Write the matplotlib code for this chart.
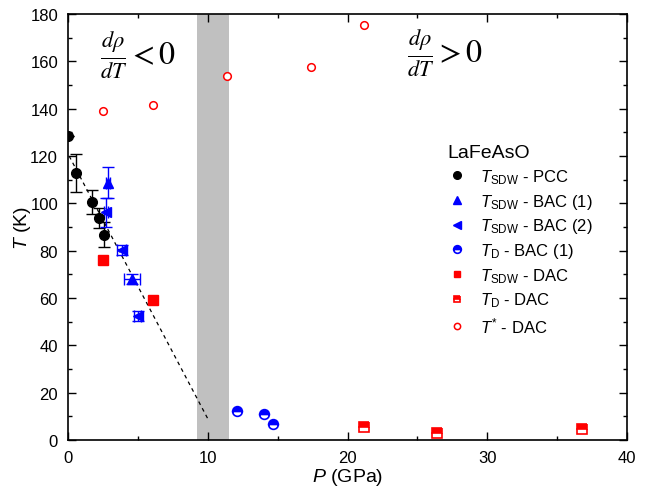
import matplotlib.pyplot as plt
from matplotlib.lines import Line2D
import numpy as np

plt.rcParams['font.family'] = ['Liberation Sans', 'DejaVu Sans']
plt.rcParams['mathtext.fontset'] = 'custom'
plt.rcParams['mathtext.rm'] = 'Liberation Sans'
plt.rcParams['mathtext.it'] = 'Liberation Sans:italic'
plt.rcParams['mathtext.bf'] = 'Liberation Sans:bold'

# T_SDW - PCC
pcc_p = [0.0, 0.6, 1.7, 2.2, 2.6]
pcc_t = [128.5, 113.0, 100.5, 94.0, 86.8]
pcc_err = [0, 8.0, 5.0, 4.2, 5.2]

# T_SDW - BAC (1)
bac1_p = [2.9, 4.6]
bac1_t = [108.8, 68.0]
bac1_yerr = [6.5, 2.0]
bac1_xerr = [0.15, 0.55]

# T_SDW - BAC (2)
bac2_p = [2.75, 3.85, 5.0]
bac2_t = [96.2, 80.3, 52.5]
bac2_yerr = [6.2, 2.2, 2.0]
bac2_xerr = [0.15, 0.3, 0.25]

# T_D - BAC (1)
td_bac_p = [12.1, 14.0, 14.7]
td_bac_t = [12.2, 11.2, 6.8]

# T_SDW - DAC
dac_p = [2.55, 6.1]
dac_t = [76.0, 59.0]

# T_D - DAC
td_dac_p = [21.2, 26.4, 36.8]
td_dac_t = [5.6, 3.1, 4.6]

# T* - DAC
tstar_p = [2.55, 6.1, 11.4, 17.4, 21.2]
tstar_t = [139.0, 141.5, 153.8, 157.7, 175.5]

# guide line and crossover band
guide_p = [0.1, 10.1]
guide_t = [120.0, 8.0]
band = [9.25, 11.5]

fig = plt.figure(figsize=(6.52, 4.89), dpi=100)
ax = fig.add_axes([0.104, 0.098, 0.858, 0.871])

ax.axvspan(band[0], band[1], color='#c0c0c0', lw=0, zorder=0)
ax.plot(guide_p, guide_t, ls=(0, (3, 3)), color='black', lw=0.9, zorder=1)

blue = '#0000ff'
red = '#ff0000'

ax.errorbar(pcc_p, pcc_t, yerr=pcc_err, fmt='o', color='black', ms=7,
            capsize=4.5, elinewidth=1, zorder=3)
ax.errorbar(bac1_p, bac1_t, yerr=bac1_yerr, xerr=bac1_xerr, fmt='^', color=blue,
            ms=7, capsize=4, elinewidth=1, zorder=3)
ax.errorbar(bac2_p, bac2_t, yerr=bac2_yerr, xerr=bac2_xerr, fmt='<', color=blue,
            ms=7, capsize=4, elinewidth=1, zorder=3)
ax.plot(td_bac_p, td_bac_t, 'o', ms=7, color=blue, fillstyle='top',
        markerfacecoloralt='white', mew=1.2, zorder=3)
ax.plot(dac_p, dac_t, 's', ms=6.5, color=red, zorder=3)
ax.plot(td_dac_p, td_dac_t, 's', ms=6.5, color=red, fillstyle='top',
        markerfacecoloralt='white', mew=1.2, zorder=3)
ax.plot(tstar_p, tstar_t, 'o', ms=5.5, color=red, mfc='white', mew=1.1, zorder=3)

ax.set_xlim(0, 40)
ax.set_ylim(0, 180)
ax.set_xticks(np.arange(0, 41, 10))
ax.set_xticks(np.arange(0, 41, 5), minor=True)
ax.set_yticks(np.arange(0, 181, 20))
ax.set_yticks(np.arange(0, 181, 10), minor=True)
ax.tick_params(which='both', direction='in', top=True, right=True, labelsize=12, pad=7)
ax.tick_params(which='major', length=6, width=1)
ax.tick_params(which='minor', length=3, width=1)
for s in ax.spines.values():
    s.set_linewidth(1.2)

ax.set_xlabel(r'$P$ (GPa)', fontsize=14, labelpad=1)
ax.set_ylabel(r'$T$ (K)', fontsize=14, labelpad=-2)

ax.text(5.0, 163, r'$\frac{d\rho}{dT} < 0$', fontsize=23, ha='center', va='center',
        math_fontfamily='stix')
ax.text(27.0, 164, r'$\frac{d\rho}{dT} > 0$', fontsize=23, ha='center', va='center',
        math_fontfamily='stix')

leg_handles = [
    Line2D([], [], ls='none', marker='o', ms=5.5, color='black'),
    Line2D([], [], ls='none', marker='^', ms=6, color=blue),
    Line2D([], [], ls='none', marker='<', ms=6, color=blue),
    Line2D([], [], ls='none', marker='o', ms=5.5, color=blue, fillstyle='top',
           markerfacecoloralt='white', mew=1.2),
    Line2D([], [], ls='none', marker='s', ms=5, color=red),
    Line2D([], [], ls='none', marker='s', ms=5, color=red, fillstyle='top',
           markerfacecoloralt='white', mew=1.2),
    Line2D([], [], ls='none', marker='o', ms=4.5, color=red, mfc='white', mew=1.1),
]
leg_labels = [
    r'$T_{\rm SDW}$ - PCC',
    r'$T_{\rm SDW}$ - BAC (1)',
    r'$T_{\rm SDW}$ - BAC (2)',
    r'$T_{\rm D}$ - BAC (1)',
    r'$T_{\rm SDW}$ - DAC',
    r'$T_{\rm D}$ - DAC',
    r'$T^{*}$ - DAC',
]
leg = ax.legend(leg_handles, leg_labels, loc='upper left', bbox_to_anchor=(0.651, 0.73),
                frameon=False, fontsize=12, title='LaFeAsO', title_fontsize=14,
                handlelength=1.2, handletextpad=0.8, labelspacing=0.35)
leg._legend_box.align = 'left'

fig.savefig('out.png', dpi=100)
